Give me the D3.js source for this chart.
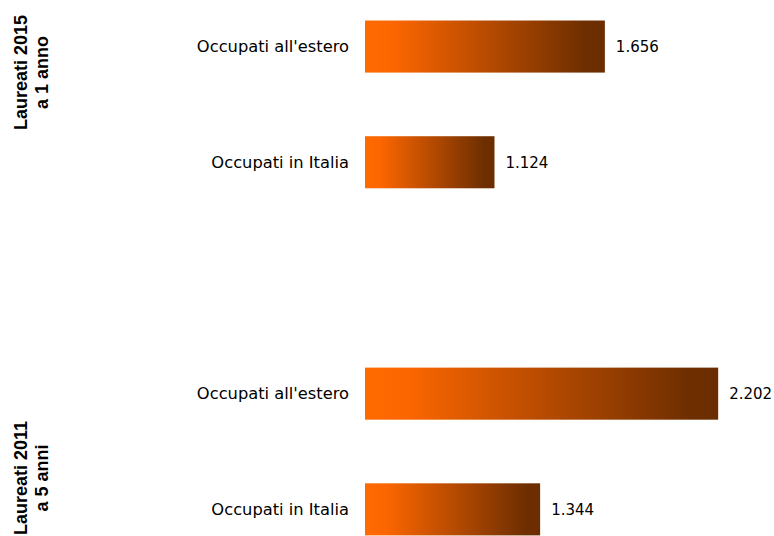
<!DOCTYPE html>
<html>
<head>
<meta charset="utf-8">
<script src="https://cdn.jsdelivr.net/npm/d3@7"></script>
<style>
  body { margin: 0; background: #fff; }
  svg { display: block; }
  .cat { font-family: "DejaVu Sans", sans-serif; font-size: 16.3px; fill: #000; }
  .val { font-family: "DejaVu Sans", sans-serif; font-size: 15px; fill: #000; }
  .grp { font-family: "Liberation Sans", Arial, sans-serif; font-size: 18px; font-weight: bold; fill: #000; }
</style>
</head>
<body>
<svg id="chart" width="774" height="536"></svg>
<script>
// categories, top to bottom ("gap" is the empty slot between the two groups)
var slots = ['a0', 'a1', 'gap', 'b0', 'b1']
var labels = ["Occupati all'estero", 'Occupati in Italia', '', "Occupati all'estero", 'Occupati in Italia']
var values = [1.656, 1.124, null, 2.202, 1.344]
var valueLabels = ['1.656', '1.124', '', '2.202', '1.344']
var groupLines = [['Laureati 2015', 'a 1 anno'], ['Laureati 2011', 'a 5 anni']]
var groupCenters = [72.5, 478]   // where the rotated group labels sit

var svg = d3.select('#chart')

var x = d3.scaleLinear()
    .domain([0.5, 2.5])
    .range([365, 780])

var y = d3.scaleBand()
    .domain(slots)
    .range([-11.3, 567.2])
    .paddingInner(0.55)
    .paddingOuter(0.275)

var grad = svg.append('defs').append('linearGradient')
    .attr('id', 'barGrad')
    .attr('x1', '0%').attr('x2', '100%')
    .attr('y1', '0%').attr('y2', '0%')
grad.append('stop').attr('offset', '0%').attr('stop-color', '#ff6a00')
grad.append('stop').attr('offset', '12%').attr('stop-color', '#fb6600')
grad.append('stop').attr('offset', '92%').attr('stop-color', '#6e2e00')
grad.append('stop').attr('offset', '100%').attr('stop-color', '#6b2d00')

var rows = slots.map(function(s, i) {
    return {slot: s, label: labels[i], value: values[i], text: valueLabels[i]}
}).filter(function(d) { return d.value !== null })

svg.selectAll('rect.bar')
    .data(rows)
  .enter().append('rect')
    .attr('class', 'bar')
    .attr('x', x(0.5))
    .attr('y', function(d) { return y(d.slot) })
    .attr('width', function(d) { return x(d.value) - x(0.5) })
    .attr('height', y.bandwidth())
    .attr('fill', 'url(#barGrad)')

svg.selectAll('text.cat')
    .data(rows)
  .enter().append('text')
    .attr('class', 'cat')
    .attr('x', x(0.5) - 16)
    .attr('y', function(d) { return y(d.slot) + y.bandwidth() / 2 })
    .attr('dy', '0.35em')
    .attr('text-anchor', 'end')
    .text(function(d) { return d.label })

svg.selectAll('text.val')
    .data(rows)
  .enter().append('text')
    .attr('class', 'val')
    .attr('x', function(d) { return x(d.value) + 11 })
    .attr('y', function(d) { return y(d.slot) + y.bandwidth() / 2 })
    .attr('dy', '0.35em')
    .text(function(d) { return d.text })

// rotated group labels on the left
groupLines.forEach(function(lines, gi) {
    var t = svg.append('text')
        .attr('class', 'grp')
        .attr('text-anchor', 'middle')
        .attr('transform', 'translate(27,' + groupCenters[gi] + ') rotate(-90)')
    lines.forEach(function(line, li) {
        t.append('tspan')
            .attr('x', 0)
            .attr('y', li * 21)
            .text(line)
    })
})
</script>
</body>
</html>
